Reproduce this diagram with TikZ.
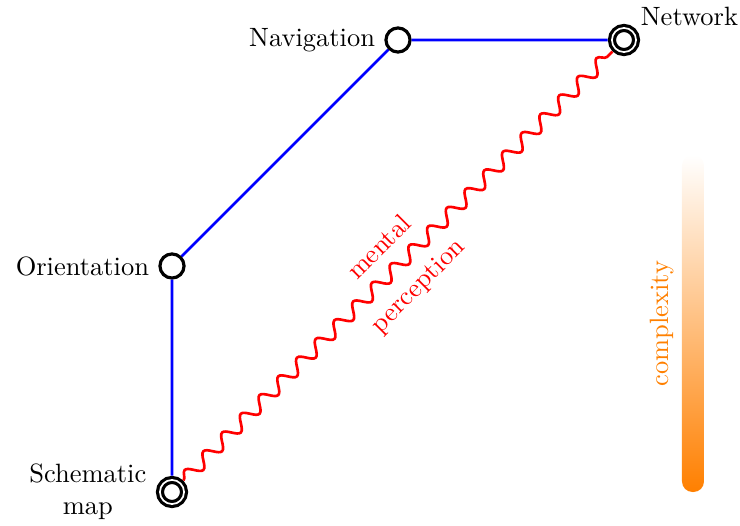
\documentclass[tikz,border=0pt]{standalone}
\usetikzlibrary{decorations.pathmorphing}
\begin{document}
\begin{tikzpicture}
\useasboundingbox (-2.283,-0.438) rectangle (7.540,6.531);
\tikzset{
 place/.style={circle, draw=black, line width=1.2pt, minimum size=0.32cm, inner sep=0pt, fill=white},
 dplace/.style={place, double=white, double distance=0.65pt, outer sep=1.6pt},
 link/.style={blue, line width=1pt},
 wave/.style={red, line width=1pt, decorate, decoration={snake, segment length=10pt, amplitude=2.5pt}},
 wlabel/.style={red, sloped, midway},
}
\node[dplace, label={[align=center]left:Schematic\\map}] (schem) at (0,0) {};
\node[place, label={left:Orientation}] (orient) at (0,3) {};
\node[place, label={left:Navigation}] (nav) at (3,6) {};
\node[dplace, label={[xshift=-1.5pt, yshift=-2.5pt]above right:Network}] (net) at (6,6) {};
\draw[link] (schem) -- (orient) -- (nav) -- (net);
\draw[wave] (schem) -- node[wlabel, above=3pt] {mental} node[wlabel, below=3pt] {perception} (net);
\shade[top color=white, bottom color=orange, rounded corners=0.14cm] (6.77,0) rectangle (7.062,4.474);
\node[orange, rotate=90, inner sep=0pt] (cx) at (6.507,2.237) {complexity};
\end{tikzpicture}
\end{document}
